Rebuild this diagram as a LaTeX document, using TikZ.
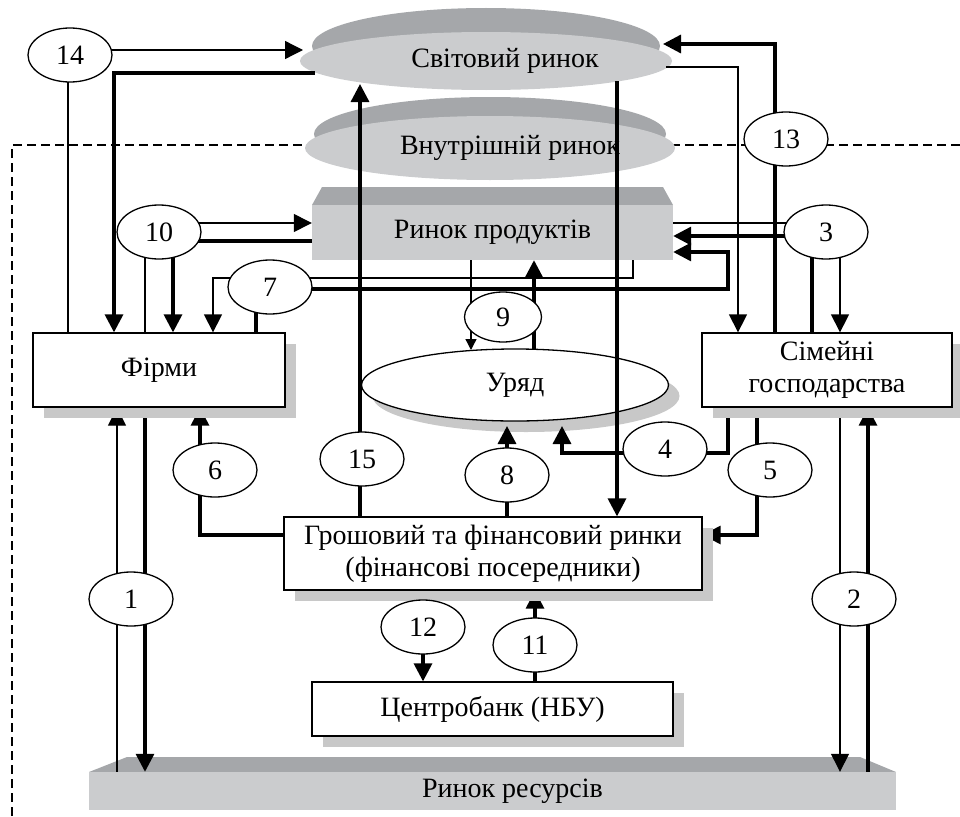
\documentclass[tikz,border=0pt]{standalone}
\usepackage{fontspec}
\setmainfont{Liberation Serif}
\usetikzlibrary{arrows.meta,shapes.geometric,shadows}
\definecolor{lgray}{HTML}{CBCCCE}
\definecolor{dgray}{HTML}{A5A7AA}
\definecolor{shd}{HTML}{C8C8C8}
\pgfdeclarelayer{back}
\pgfsetlayers{back,main}
\begin{document}
\begin{tikzpicture}[x=1pt,y=-1pt,
  every node/.style={font=\fontsize{28}{32}\selectfont},
  thinl/.style={line width=1.3pt},
  thickl/.style={line width=3.3pt},
  arr/.style={-{Triangle[length=18pt,width=18pt]}},
  sarr/.style={-{Triangle[length=11pt,width=11pt]}},
  num/.style={ellipse, draw, line width=1.3pt, fill=white, minimum width=84pt, minimum height=54pt, inner sep=0pt},
  box/.style={rectangle, draw, line width=1.3pt, fill=white, inner sep=0pt, align=center,
    drop shadow={shadow xshift=11pt,shadow yshift=-11pt,fill=shd,opacity=1}},
  slab/.style={rectangle, fill=lgray, inner sep=0pt},
  disc/.style={ellipse, fill=lgray, inner sep=0pt},
  line join=miter]
\useasboundingbox (0,0) rectangle (960,816);

\begin{pgfonlayer}{back}
  % dashed boundary of the domestic economy
  \draw[line width=1.3pt, dash pattern=on 9pt off 5pt] (12,816) -- (12,145) -- (960,145);
  % world market
  \fill[dgray] (486,46) ellipse [x radius=174pt, y radius=38pt];
  \node[disc, minimum width=372pt, minimum height=58pt] (mw) at (486,61) {\hspace*{38pt}Світовий ринок};
  % domestic market
  \fill[dgray] (490,134) ellipse [x radius=176pt, y radius=37pt];
  \node[disc, minimum width=370pt, minimum height=64pt] (dm) at (490,148) {\hspace*{40pt}Внутрішній ринок};
  % product market
  \fill[dgray] (312,205) -- (322,187) -- (663,187) -- (673,205) -- cycle;
  \node[slab, minimum width=361pt, minimum height=55pt] (pr) at (492.5,232.5) {Ринок продуктів};
  % resource market
  \fill[dgray] (89,772) -- (127,757) -- (860,757) -- (896,772) -- cycle;
  \node[slab, minimum width=807pt, minimum height=38pt] (rr) at (492.5,791) {\hspace*{40pt}Ринок ресурсів};
  % government
  \node[ellipse, draw, line width=1.3pt, fill=white, inner sep=0pt, minimum width=307pt, minimum height=72pt,
    drop shadow={shadow xshift=11pt,shadow yshift=-11pt,fill=shd,opacity=1}] (u) at (515,385) {Уряд};
\end{pgfonlayer}

% boxes
\node[box, minimum width=252pt, minimum height=74pt] (f) at (159,370) {Фірми};
\node[box, minimum width=250pt, minimum height=74pt] (s) at (827,370) {Сімейні\\господарства};
\node[box, minimum width=418pt, minimum height=73pt] (g) at (493,553.5) {Грошовий та фінансовий ринки\\(фінансові посередники)};
\node[box, minimum width=361pt, minimum height=54pt] (cb) at (492.5,709) {Центробанк (НБУ)};

% numbered flow labels
\node[num] (n14) at (70,55) {14};
\node[num] (n13) at (786,139) {13};
\node[num] (n10) at (159,232) {10};
\node[num] (n7) at (270,287) {7};
\node[num] (n3) at (826,232) {3};
\node[num, minimum width=77pt, minimum height=50pt] (n9) at (503,317) {9};
\node[num] (n15) at (362,459) {15};
\node[num] (n6) at (215,470) {6};
\node[num] (n8) at (507,475) {8};
\node[num] (n4) at (665,449) {4};
\node[num] (n5) at (770,470) {5};
\node[num] (n1) at (131,599) {1};
\node[num] (n2) at (854,599) {2};
\node[num] (n12) at (423,627) {12};
\node[num] (n11) at (535,645) {11};

\begin{pgfonlayer}{back}
  % 14
  \draw[thinl, arr] (n14 |- 0,50) -- (303,50);
  \draw[thickl, arr] ([shift={(15,12)}]mw.west) -- (114,73) -- (114,0 |- f.north);
  \draw[thinl] (68,0 |- n14) -- (68,0 |- f.north);
  % 10
  \draw[thinl, arr] (n10 |- 0,223) -- (pr.west |- 0,223);
  \draw[thickl] (pr.west |- 0,241) -- (n10 |- 0,241);
  \draw[thinl] (145,0 |- n10) -- (145,0 |- f.north);
  \draw[thickl, arr] (173,0 |- n10) -- (173,0 |- f.north);
  % 7
  \draw[thinl, arr] (n7 |- 0,278) -- (213,278) -- (213,0 |- f.north);
  \draw[thickl] (256,0 |- n7) -- (256,0 |- f.north);
  \draw[thinl] (n7 |- 0,278) -- (633,278) -- (633,0 |- pr.south);
  \draw[thickl, arr] (n7 |- 0,289) -- (728,289) -- (728,252) -- (pr.east |- 0,252);
  % 3
  \draw[thinl] (pr.east |- 0,223) -- (n3 |- 0,223);
  \draw[thickl, arr] (n3 |- 0,236) -- (pr.east |- 0,236);
  \draw[thickl] (812,0 |- n3) -- (812,0 |- s.north);
  \draw[thinl, arr] (840,0 |- n3) -- (840,0 |- s.north);
  % 13
  \draw[thickl, arr] (775,0 |- s.north) -- (775,0 |- n13) -- (775,44) -- (663,44);
  \draw[thinl, arr] (666,67) -- (738,67) -- (738,0 |- s.north);
  % 15
  \draw[thickl, arr] (360,0 |- n15) -- (360,84);
  \draw[thickl] (360,0 |- n15) -- (360,0 |- g.north);
  % world market -> financial markets
  \draw[thickl, arr] (617,81) -- (617,0 |- g.north);
  % 9
  \draw[thinl, sarr] (471,0 |- pr.south) -- (471,350);
  \draw[thickl, arr] (534,349) -- (534,0 |- pr.south);
  % 4
  \draw[thickl] (728,0 |- s.south) -- (728,453) -- (n4 |- 0,453);
  \draw[thickl, arr] (n4 |- 0,453) -- (562,453) -- (562,426);
  % 5
  \draw[thickl, arr] (757,0 |- s.south) -- (757,535) -- (g.east |- 0,535);
  % 8
  \draw[thickl, arr] (507,0 |- g.north) -- (507,426);
  % 6
  \draw[thickl, arr] (g.west |- 0,535) -- (200,535) -- (200,0 |- f.south);
  % 1
  \draw[thinl, arr] (117,0 |- rr.north) -- (117,0 |- f.south);
  \draw[thickl, arr] (145,0 |- f.south) -- (145,0 |- rr.north);
  % 2
  \draw[thinl, arr] (840,0 |- s.south) -- (840,0 |- rr.north);
  \draw[thickl, arr] (868,0 |- rr.north) -- (868,0 |- s.south);
  % 12, 11
  \draw[thickl, arr] (423,0 |- g.south) -- (423,0 |- cb.north);
  \draw[thickl, arr] (535,0 |- cb.north) -- (535,0 |- g.south);
\end{pgfonlayer}
\end{tikzpicture}
\end{document}
